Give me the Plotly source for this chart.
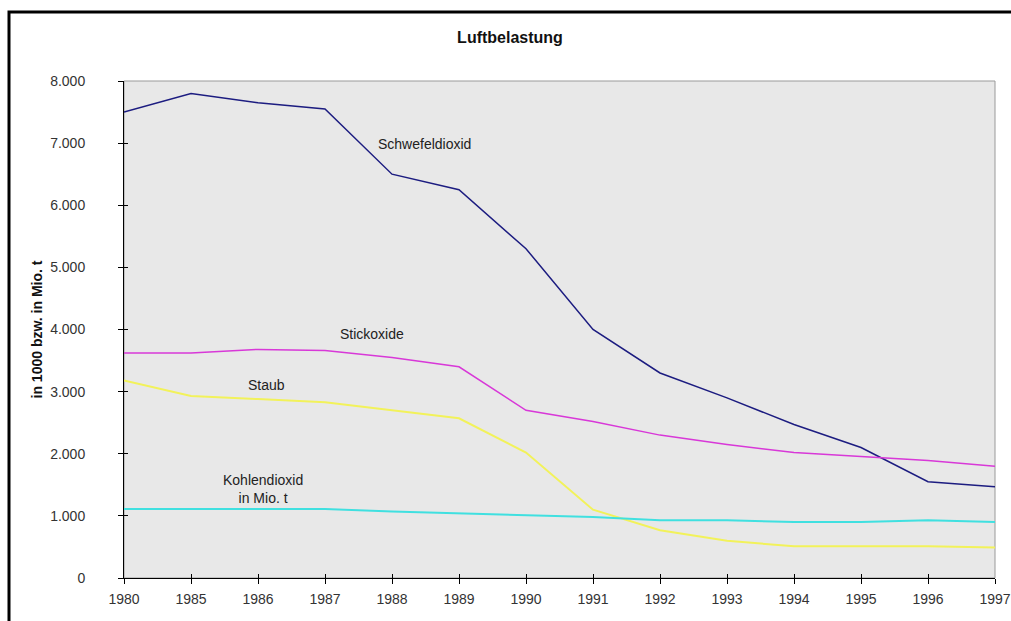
import plotly.graph_objects as go

jahre = ["1980", "1985", "1986", "1987", "1988", "1989", "1990", "1991", "1992",
         "1993", "1994", "1995", "1996", "1997"]
schwefeldioxid = [7500, 7800, 7650, 7550, 6500, 6250, 5300, 4000, 3300, 2900, 2470, 2100, 1550, 1470]
stickoxide = [3620, 3620, 3680, 3660, 3550, 3400, 2700, 2520, 2300, 2150, 2020, 1950, 1890, 1800]
staub = [3180, 2930, 2880, 2830, 2700, 2570, 2020, 1100, 770, 600, 510, 510, 510, 490]
kohlendioxid = [1110, 1110, 1110, 1110, 1070, 1040, 1010, 980, 930, 930, 900, 900, 930, 900]

series = [
    ("Schwefeldioxid", schwefeldioxid, "#1c1c80", 1.5),
    ("Stickoxide", stickoxide, "#d838d8", 1.5),
    ("Staub", staub, "#f2f25a", 2),
    ("Kohlendioxid in Mio. t", kohlendioxid, "#40e0e0", 2),
]

fig = go.Figure()
for name, vals, col, w in series:
    fig.add_trace(go.Scatter(x=jahre, y=vals, mode="lines", name=name,
                             line=dict(color=col, width=w), showlegend=False))

# invisible trace to draw inner tick marks on overlay axes
fig.add_trace(go.Scatter(x=jahre, y=[None] * len(jahre), xaxis="x2", yaxis="y2",
                         mode="lines", showlegend=False, hoverinfo="skip"))

font = "Liberation Sans, Arial, sans-serif"
labels = [
    ("Schwefeldioxid", 4.49, 6986),
    ("Stickoxide", 3.70, 3927),
    ("Staub", 2.13, 3107),
    ("Kohlendioxid<br>in Mio. t", 2.07, 1433),
]
for txt, xi, yv in labels:
    fig.add_annotation(x=xi, y=yv, text=txt, showarrow=False, xref="x", yref="y",
                       font=dict(family=font, size=14, color="#222222"))

tickfont = dict(family=font, size=14, color="#333333")
fig.update_layout(
    width=1011, height=621,
    margin=dict(l=124, r=16, t=81, b=43),
    paper_bgcolor="white", plot_bgcolor="#e8e8e8",
    separators=",.",
    title=dict(text="<b>Luftbelastung</b>", x=510 / 1011, xanchor="center",
               y=1 - 37 / 621, yanchor="middle",
               font=dict(family=font, size=16, color="#111111")),
    font=dict(family=font, size=13, color="#333333"),
    xaxis=dict(type="category", range=[0, 13], showgrid=False, zeroline=False,
               showline=True, linecolor="black", linewidth=1, automargin=False,
               ticks="outside", ticklen=5, tickcolor="black", tickfont=tickfont,
               ticklabelstandoff=3),
    yaxis=dict(range=[0, 8000], dtick=1000, tickformat=",d", showgrid=False,
               zeroline=False, showline=True, linecolor="black", linewidth=1,
               automargin=False,
               ticks="outside", ticklen=5, tickcolor="black",
               ticklabelstandoff=30, tickfont=tickfont,
               title=dict(text="<b>in 1000 bzw. in Mio. t</b>", standoff=4,
                          font=dict(family=font, size=14, color="#111111"))),
    xaxis2=dict(type="category", range=[0, 13], overlaying="x", anchor="y2",
                showgrid=False, zeroline=False, showline=False, showticklabels=False,
                ticks="inside", ticklen=4, tickcolor="black", automargin=False),
    yaxis2=dict(range=[0, 8000], dtick=1000, overlaying="y", anchor="x2",
                showgrid=False, zeroline=False, showline=False, showticklabels=False,
                ticks="inside", ticklen=4, tickcolor="black", automargin=False),
    shapes=[
        dict(type="rect", xref="paper", yref="paper", x0=0, x1=1, y0=0, y1=1,
             line=dict(color="#9a9a9a", width=1), layer="below"),
        dict(type="rect", xref="paper", yref="paper",
             x0=(9 - 124) / 871, x1=(1030 - 124) / 871,
             y0=(578 - 640) / 497, y1=(578 - 12) / 497,
             line=dict(color="black", width=3)),
    ],
)

fig.write_html("out.html")
